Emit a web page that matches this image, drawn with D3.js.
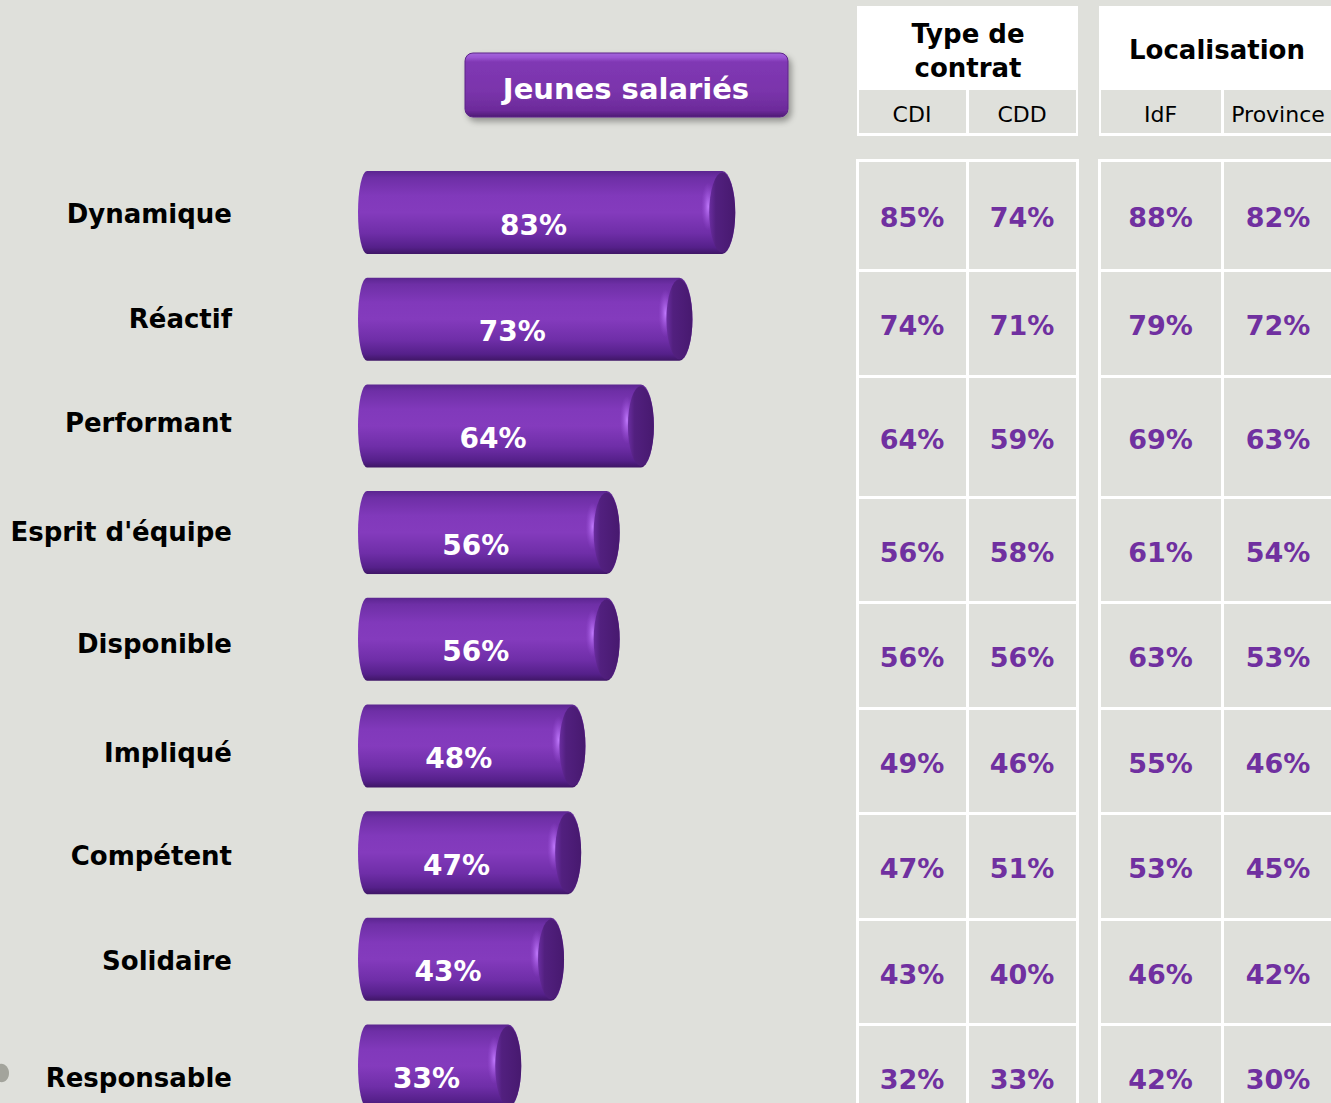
<!DOCTYPE html>
<html>
<head>
<meta charset="utf-8">
<script src="https://cdn.jsdelivr.net/npm/d3@7"></script>
<style>
  html, body { margin: 0; padding: 0; background: #dfe0db; }
  svg { display: block; }
</style>
</head>
<body>
<script>
// Qualités attribuées aux jeunes salariés (% de citations)
const categories = ["Dynamique", "Réactif", "Performant", "Esprit d'équipe", "Disponible",
                    "Impliqué", "Compétent", "Solidaire", "Responsable"];
const jeunes   = [83, 73, 64, 56, 56, 48, 47, 43, 33];
const cdi      = [85, 74, 64, 56, 56, 49, 47, 43, 32];
const cdd      = [74, 71, 59, 58, 56, 46, 51, 40, 33];
const idf      = [88, 79, 69, 61, 63, 55, 53, 46, 42];
const province = [82, 72, 63, 54, 53, 46, 45, 42, 30];

const groupTitles = [["Type de", "contrat"], ["Localisation"]];
const subHeaders  = [["CDI", "CDD"], ["IdF", "Province"]];
const groupSeries = [[cdi, cdd], [idf, province]];

// layout
const W = 1331, H = 1103;
const BG = "#dfe0db";
const PURPLE_TXT = "#7030a0";
const FONT = "'DejaVu Sans', Verdana, sans-serif";
// per-row nudge of the category labels (they do not sit exactly on the bar axis)
const labelNudge = [1, 0, -3, -1, 5, 7, 3, 2, 12];

const svg = d3.select("body").append("svg").attr("width", W).attr("height", H);
svg.append("rect").attr("width", W).attr("height", H).attr("fill", BG);

const defs = svg.append("defs");

// cylinder body shading (vertical)
const gBody = defs.append("linearGradient").attr("id", "cylBody")
  .attr("x1", 0).attr("y1", 0).attr("x2", 0).attr("y2", 1);
[[0, "#5b2590"], [0.08, "#6e2fa6"], [0.3, "#8139bb"], [0.5, "#843bbd"],
 [0.75, "#6f2ea8"], [0.92, "#55208a"], [1, "#3f1666"]]
  .forEach(([o, c]) => gBody.append("stop").attr("offset", o).attr("stop-color", c));

// end face shading
const gFace = defs.append("linearGradient").attr("id", "cylFace")
  .attr("x1", 0).attr("y1", 0).attr("x2", 1).attr("y2", 0);
[[0, "#6a2da0"], [0.25, "#52207f"], [1, "#47196f"]]
  .forEach(([o, c]) => gFace.append("stop").attr("offset", o).attr("stop-color", c));

// glint near the end face
const gGlint = defs.append("radialGradient").attr("id", "cylGlint");
gGlint.append("stop").attr("offset", 0).attr("stop-color", "#c27cff").attr("stop-opacity", 0.95);
gGlint.append("stop").attr("offset", 1).attr("stop-color", "#9a50d8").attr("stop-opacity", 0);

// title button
const gBtn = defs.append("linearGradient").attr("id", "btnFill")
  .attr("x1", 0).attr("y1", 0).attr("x2", 0).attr("y2", 1);
[[0, "#a366dc"], [0.07, "#9a55d2"], [0.14, "#8038b4"], [0.6, "#7a34ab"],
 [0.9, "#6c2a9a"], [1, "#4e1a74"]]
  .forEach(([o, c]) => gBtn.append("stop").attr("offset", o).attr("stop-color", c));

const shadow = defs.append("filter").attr("id", "btnShadow")
  .attr("x", "-10%").attr("y", "-20%").attr("width", "130%").attr("height", "160%");
shadow.append("feGaussianBlur").attr("in", "SourceAlpha").attr("stdDeviation", 3).attr("result", "b");
shadow.append("feOffset").attr("in", "b").attr("dx", 3).attr("dy", 4).attr("result", "o");
shadow.append("feComponentTransfer").attr("in", "o").attr("result", "s")
  .append("feFuncA").attr("type", "linear").attr("slope", 0.35);
const merge = shadow.append("feMerge");
merge.append("feMergeNode").attr("in", "s");
merge.append("feMergeNode").attr("in", "SourceGraphic");

// ---------- title button ----------
const btn = svg.append("g");
btn.append("rect").attr("x", 465).attr("y", 53).attr("width", 323).attr("height", 64)
  .attr("rx", 8).attr("fill", "url(#btnFill)").attr("stroke", "#5d2488").attr("stroke-width", 1)
  .attr("filter", "url(#btnShadow)");
btn.append("text").attr("x", 626).attr("y", 99)
  .attr("text-anchor", "middle").attr("fill", "#fff")
  .style("font", `bold 29px ${FONT}`).text("Jeunes salariés");

// ---------- cylinder bars ----------
const x = d3.scaleLinear().domain([0, 100]).range([367, 795]);
const y = d3.scalePoint().domain(categories).range([212.5, 1066]);
const BAR_H = 83, RY = BAR_H / 2, RX_FACE = 13, RX_BACK = 9;

const bars = svg.append("g").selectAll("g").data(categories).join("g")
  .attr("transform", d => `translate(0,${y(d)})`);

bars.append("path")
  .attr("d", (d, i) => {
    const x0 = x(0), x1 = x(jeunes[i]);
    return `M${x0},${-RY} L${x1},${-RY} A${RX_FACE},${RY} 0 0 1 ${x1},${RY} ` +
           `L${x0},${RY} A${RX_BACK},${RY} 0 0 1 ${x0},${-RY} Z`;
  })
  .attr("fill", "url(#cylBody)");

bars.append("ellipse")
  .attr("cx", (d, i) => x(jeunes[i]) - RX_FACE - 1).attr("cy", -6)
  .attr("rx", 7).attr("ry", 24).attr("fill", "url(#cylGlint)");

bars.append("ellipse")
  .attr("cx", (d, i) => x(jeunes[i])).attr("cy", 0)
  .attr("rx", RX_FACE).attr("ry", RY - 1.5)
  .attr("fill", "url(#cylFace)");

bars.append("text")
  .attr("x", (d, i) => (x(0) - RX_BACK + x(jeunes[i]) - RX_FACE) / 2)
  .attr("y", 22)
  .attr("text-anchor", "middle").attr("fill", "#fff")
  .style("font", `bold 28px ${FONT}`)
  .text((d, i) => jeunes[i] + "%");

// category labels
svg.append("g").selectAll("text").data(categories).join("text")
  .attr("x", 232).attr("y", (d, i) => y(d) + 9 + labelNudge[i])
  .attr("text-anchor", "end").attr("fill", "#000")
  .style("font", `bold 26px ${FONT}`)
  .text(d => d);

// ---------- side tables ----------
const colEdges = [[857, 967, 1077], [1099, 1222, 1334]];
const rowEdges = [160, 270, 376, 497, 602, 708, 813, 919, 1024, 1130];
const HEAD_TOP = 6, HEAD_SPLIT = 90, HEAD_BOTTOM = 135;

colEdges.forEach((edges, g) => {
  const grp = svg.append("g");
  const left = edges[0], right = edges[edges.length - 1];

  // header block
  grp.append("rect").attr("x", left).attr("y", HEAD_TOP)
    .attr("width", right - left + 1).attr("height", HEAD_BOTTOM - HEAD_TOP + 1).attr("fill", "#fff");
  const titleLines = groupTitles[g];
  const midX = (left + right) / 2 + (g === 1 ? 0 : 1);
  const lineH = 34;
  const baseY = titleLines.length === 1 ? 59 : 43;
  titleLines.forEach((t, k) => {
    grp.append("text").attr("x", g === 1 ? 1217 : midX).attr("y", baseY + k * lineH)
      .attr("text-anchor", "middle").attr("fill", "#000")
      .style("font", `bold 26px ${FONT}`).text(t);
  });

  subHeaders[g].forEach((s, c) => {
    const x0 = edges[c], x1 = edges[c + 1];
    grp.append("rect").attr("x", x0 + 2).attr("y", HEAD_SPLIT)
      .attr("width", x1 - x0 - 3).attr("height", HEAD_BOTTOM - HEAD_SPLIT - 2).attr("fill", BG);
    grp.append("text").attr("x", (x0 + x1) / 2).attr("y", 122)
      .attr("text-anchor", "middle").attr("fill", "#000")
      .style("font", `22px ${FONT}`).text(s);
  });

  // body cells
  groupSeries[g].forEach((series, c) => {
    const x0 = edges[c], x1 = edges[c + 1];
    series.forEach((v, r) => {
      const y0 = rowEdges[r], y1 = rowEdges[r + 1];
      grp.append("rect").attr("x", x0 + 0.5).attr("y", y0 + 0.5)
        .attr("width", x1 - x0).attr("height", y1 - y0)
        .attr("fill", BG).attr("stroke", "#fff").attr("stroke-width", 3);
      grp.append("text").attr("x", (x0 + x1) / 2).attr("y", (y0 + y1) / 2 + 12)
        .attr("text-anchor", "middle").attr("fill", PURPLE_TXT)
        .style("font", `bold 27px ${FONT}`).text(v + "%");
    });
  });
});

// small grey mark at the left margin
svg.append("path")
  .attr("d", "M0,1064 C5,1063 9,1068 9,1073 C9,1079 5,1083 0,1082 Z")
  .attr("fill", "#a3a49c");
</script>
</body>
</html>
